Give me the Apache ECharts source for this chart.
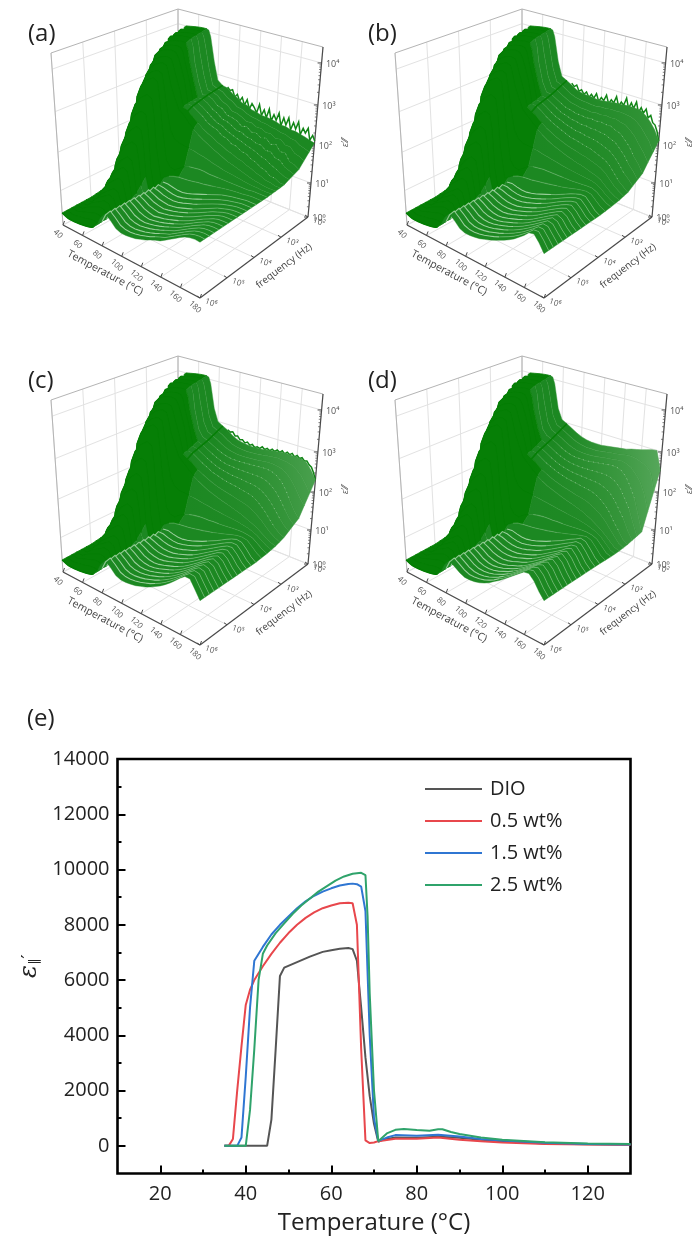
<!DOCTYPE html>
<html><head><meta charset="utf-8">
<script src="https://cdn.jsdelivr.net/npm/echarts@6/dist/echarts.min.js"></script>
<style>html,body{margin:0;padding:0;background:#fff}#c{width:694px;height:1238px;filter:blur(.4px)}</style>
</head><body><div id="c"></div>
<script>
// ---------- panel (e) values ----------
const curveDIO=[[35,0],[45,0],[46,950],[47,3500],[48,6150],[49,6450],[52,6650],[55,6850],[58,7020],[60,7080],[62,7130],[64,7160],[65,7120],[66,6700],[67,5000],[68,3200],[69,1800],[70,800],[71,150],[72,220],[75,300],[80,290],[85,330],[90,290],[95,220],[100,170],[110,90],[120,60],[130,40]];
const curve05=[[35,0],[36,0],[37,250],[38,2000],[39,3600],[40,5100],[41,5650],[42,6000],[44,6500],[46,6950],[48,7350],[50,7700],[52,8000],[54,8250],[56,8450],[58,8600],[60,8700],[62,8780],[64,8800],[65,8780],[66,8000],[67,3500],[68,200],[69,100],[70,120],[71,170],[75,260],[80,260],[85,300],[90,220],[95,170],[100,120],[110,70],[120,50],[130,40]];
const curve15=[[35,0],[38,0],[39,300],[40,2500],[41,5000],[42,6700],[44,7200],[46,7650],[48,8000],[50,8300],[52,8600],[54,8850],[56,9050],[58,9200],[60,9320],[62,9420],[64,9480],[65,9490],[66,9470],[67,9380],[68,8500],[69,4000],[70,1000],[71,180],[73,300],[75,390],[80,370],[85,400],[90,340],[95,250],[100,190],[110,110],[120,70],[130,50]];
const curve25=[[35,0],[40,0],[41,1300],[42,3500],[43,6000],[44,6950],[45,7250],[47,7700],[49,8050],[51,8400],[53,8700],[55,8950],[57,9200],[59,9400],[61,9600],[63,9750],[65,9850],[67,9880],[68,9800],[68.5,8300],[69,5500],[70,2000],[71,170],[73,450],[75,580],[77,610],[80,570],[83,550],[85,600],[86,600],[88,500],[90,430],[95,300],[100,220],[110,130],[120,90],[130,70]];
const legendNames=['DIO','0.5 wt%','1.5 wt%','2.5 wt%'];
const lineColors=['#555555','#e8474c','#2f76d2','#2fa36b'];

// ---------- 3D panels: log10(permittivity) read at log10(f) rows and temperatures ----------
const logFreqRows=[2,2.5,3,3.3,3.6,4,4.5,5,6];
const tempsLow=[40,44,46,48,52,58,64,68,70,72,76];
const tempsHigh=[80,85,90,95,100,105,110,115,120,125,130,135,140,145,150,155,160,165,170,175,180];
const lowSide=[
[1.0,1.1,3.95,4.0,4.02,4.05,4.07,4.07,4.05,3.9,3.3],
[1.0,1.05,3.8,3.88,3.92,3.96,3.98,3.98,3.8,3.4,2.95],
[.9,.95,3.35,3.55,3.68,3.76,3.8,3.78,3.7,3.55,3.2],
[.8,.85,2.85,3.15,3.35,3.5,3.58,3.55,3.35,3.1,2.8],
[.7,.75,2.3,2.7,3.0,3.2,3.3,3.25,2.8,2.2,1.3],
[.55,.55,1.6,1.9,2.2,2.45,2.6,2.55,2.2,1.2,.5],
[.45,.45,.85,1.0,1.2,1.45,1.6,1.55,1.2,.7,.5],
[.38,.38,.4,.5,.65,.8,.95,.9,.7,.5,.55],
[.35,.3,.28,.28,.28,.3,.33,.36,.38,.42,.55]];
const tailA=[
[2.85,2.75,2.72,2.62,2.55,2.46,2.44,2.36,2.34,2.3,2.3,2.28,2.26,2.22,2.22,2.18,2.18,2.15,2.12,2.08,2.05],
[2.65,2.68,2.62,2.5,2.46,2.34,2.32,2.28,2.18,2.22,2.12,2.14,2.06,2.1,1.98,2.04,1.88,1.9,1.72,1.68,1.6],
[2.6,2.58,2.5,2.42,2.3,2.24,2.2,2.1,2.07,1.98,1.97,1.88,1.87,1.78,1.74,1.66,1.62,1.53,1.52,1.45,1.45],
[2.55,2.45,2.3,2.2,2.1,2.02,1.95,1.88,1.82,1.76,1.7,1.66,1.62,1.58,1.54,1.5,1.47,1.45,1.43,1.43,1.43],
[1.15,1.12,1.22,1.32,1.38,1.4,1.42,1.42,1.4,1.4,1.4,1.4,1.4,1.4,1.4,1.4,1.4,1.42,1.42,1.42,1.42],
[.75,.98,.98,.95,.92,.92,.95,1.0,1.05,1.1,1.15,1.2,1.25,1.3,1.33,1.36,1.38,1.4,1.42,1.42,1.42],
[.78,.98,.92,.85,.82,.8,.82,.85,.9,.95,1.0,1.06,1.12,1.18,1.24,1.3,1.34,1.38,1.41,1.42,1.42],
[.8,.98,.9,.8,.75,.72,.75,.78,.82,.87,.92,.98,1.04,1.11,1.18,1.25,1.31,1.37,1.41,1.42,1.42],
[.8,.98,.85,.7,.65,.65,.67,.7,.75,.8,.87,.93,.98,1.06,1.14,1.22,1.3,1.37,1.41,1.43,1.42]];
const tailB=[
[2.95,2.88,2.8,2.72,2.68,2.66,2.66,2.64,2.64,2.66,2.68,2.7,2.7,2.72,2.72,2.72,2.7,2.62,2.5,2.34,2.1],
[2.72,2.7,2.62,2.55,2.48,2.46,2.42,2.42,2.4,2.42,2.4,2.42,2.4,2.4,2.34,2.3,2.18,2.05,1.85,1.7,1.5],
[2.6,2.58,2.5,2.4,2.32,2.26,2.2,2.15,2.1,2.08,2.05,2.02,2,1.95,1.9,1.85,1.75,1.6,1.45,1.35,1.25],
[2.55,2.42,2.3,2.2,2.1,2.02,1.95,1.9,1.85,1.8,1.76,1.72,1.7,1.66,1.62,1.58,1.52,1.42,1.32,1.25,1.2],
[1.15,1.12,1.22,1.32,1.38,1.4,1.42,1.42,1.42,1.42,1.42,1.42,1.42,1.43,1.44,1.45,1.45,1.4,1.3,1.22,1.17],
[.75,.98,1,.96,.93,.93,.96,1,1.05,1.1,1.15,1.2,1.26,1.32,1.38,1.43,1.47,1.47,1.35,1.22,1.15],
[.78,.98,.93,.87,.83,.82,.83,.87,.92,.97,1.03,1.09,1.16,1.24,1.31,1.38,1.44,1.48,1.38,1.24,1.15],
[.8,.98,.9,.8,.75,.73,.75,.79,.84,.89,.95,1.01,1.08,1.16,1.24,1.32,1.4,1.47,1.42,1.26,1.15],
[.8,.98,.85,.7,.65,.65,.67,.7,.75,.8,.86,.93,1,1.07,1.15,1.25,1.35,1.47,1.5,1.35,1.15]];
const tailC=[
[3.0,2.92,2.85,2.75,2.68,2.65,2.63,2.62,2.63,2.64,2.66,2.68,2.7,2.72,2.72,2.72,2.72,2.7,2.65,2.5,2.3],
[2.78,2.72,2.65,2.58,2.52,2.48,2.46,2.46,2.46,2.47,2.48,2.49,2.5,2.5,2.48,2.42,2.32,2.15,1.92,1.7,1.55],
[2.6,2.58,2.5,2.42,2.35,2.28,2.24,2.2,2.17,2.15,2.13,2.1,2.08,2.05,1.98,1.88,1.75,1.6,1.46,1.36,1.3],
[2.55,2.42,2.3,2.2,2.12,2.05,1.98,1.93,1.88,1.84,1.8,1.76,1.72,1.68,1.62,1.56,1.5,1.42,1.34,1.27,1.22],
[1.15,1.12,1.22,1.3,1.36,1.39,1.41,1.42,1.42,1.43,1.43,1.44,1.45,1.46,1.47,1.47,1.45,1.42,1.33,1.24,1.18],
[.75,.98,1,.96,.93,.93,.96,1,1.05,1.1,1.16,1.22,1.28,1.35,1.42,1.48,1.52,1.5,1.38,1.24,1.15],
[.78,.98,.93,.87,.83,.82,.83,.87,.92,.97,1.03,1.1,1.18,1.26,1.34,1.42,1.5,1.53,1.42,1.26,1.15],
[.8,.98,.9,.8,.75,.73,.75,.79,.84,.89,.95,1.02,1.1,1.19,1.28,1.38,1.47,1.54,1.48,1.3,1.15],
[.8,.98,.85,.7,.65,.65,.67,.7,.75,.8,.87,.95,1.03,1.12,1.22,1.33,1.45,1.55,1.55,1.35,1.15]];
const tailD=[
[3.05,2.98,2.9,2.82,2.76,2.72,2.7,2.7,2.7,2.72,2.74,2.76,2.78,2.8,2.84,2.87,2.9,2.94,2.98,3.0,2.55],
[2.82,2.76,2.7,2.62,2.56,2.52,2.5,2.5,2.5,2.52,2.54,2.56,2.58,2.6,2.6,2.56,2.45,2.25,2.0,1.6,1.2],
[2.6,2.58,2.5,2.42,2.36,2.3,2.26,2.22,2.2,2.18,2.16,2.14,2.12,2.08,2.0,1.9,1.75,1.55,1.38,1.2,1.12],
[2.55,2.42,2.3,2.2,2.12,2.05,2,1.95,1.9,1.86,1.82,1.78,1.74,1.68,1.62,1.54,1.46,1.36,1.25,1.15,1.1],
[1.15,1.12,1.22,1.3,1.36,1.39,1.41,1.42,1.42,1.43,1.43,1.44,1.45,1.46,1.47,1.47,1.45,1.4,1.28,1.15,1.1],
[.75,.98,1,.96,.93,.93,.96,1,1.05,1.1,1.16,1.22,1.28,1.35,1.42,1.48,1.55,1.52,1.38,1.22,1.12],
[.78,.98,.93,.87,.83,.82,.83,.87,.92,.97,1.03,1.1,1.18,1.26,1.34,1.42,1.52,1.57,1.44,1.25,1.13],
[.8,.98,.9,.8,.75,.73,.75,.79,.85,.9,.97,1.05,1.14,1.23,1.32,1.42,1.52,1.6,1.5,1.3,1.14],
[.8,.98,.88,.78,.72,.72,.74,.78,.84,.92,1.02,1.1,1.2,1.3,1.4,1.5,1.6,1.62,1.5,1.3,1.15]];
// the noisy lowest-frequency traces, read every 2.5 degrees from 90 to 180 at 100 Hz
const noiseTemps=[90,92.5,95,97.5,100,102.5,105,107.5,110,112.5,115,117.5,120,122.5,125,127.5,130,132.5,135,137.5,140,142.5,145,147.5,150,152.5,155,157.5,160,162.5,165,167.5,170,172.5,175,177.5,180];
const noiseA=[2.75,2.68,2.72,2.55,2.64,2.48,2.6,2.42,2.58,2.36,2.52,2.44,2.32,2.56,2.3,2.46,2.28,2.52,2.24,2.42,2.3,2.5,2.2,2.42,2.26,2.46,2.18,2.38,2.24,2.44,2.14,2.32,2.22,2.36,2.08,2.22,2.1];
const noiseB=[2.85,2.78,2.84,2.7,2.76,2.66,2.74,2.62,2.72,2.64,2.78,2.6,2.72,2.66,2.82,2.62,2.74,2.68,2.86,2.64,2.76,2.7,2.9,2.66,2.82,2.7,2.88,2.64,2.78,2.66,2.78,2.58,2.66,2.5,2.46,2.32,2.1];
const noiseC=[2.86,2.82,2.85,2.76,2.78,2.7,2.72,2.66,2.7,2.64,2.68,2.62,2.66,2.64,2.7,2.65,2.7,2.66,2.72,2.68,2.74,2.7,2.76,2.7,2.76,2.72,2.77,2.7,2.76,2.7,2.74,2.68,2.7,2.62,2.58,2.46,2.3];
const panelNoise=[noiseA,noiseB,noiseC,null];
const panelTopLight=[0,.1,.2,.26];
const tempTicks=[40,60,80,100,120,140,160,180];
const freqTicks=[6,5,4,3,2];
const epsTicks=[0,1,2,3,4];
const epsTickFrac=[0,.2,.423,.659,.906,1];   // where each decade sits on the height of the box
const epsTickLog=[0,1,2,3,4,4.38];
const sup=['⁰','¹','²','³','⁴','⁵','⁶'];
const panelTails=[tailA,tailB,tailC,tailD];
const panelOrigins=[[0,0],[344,0],[0,347],[344,347]];
const panelLetters=['(a)','(b)','(c)','(d)'];

// box corners in panel pixels; [u,v]: u along temperature, v from 1e6 Hz back to 1e2 Hz
const floorC={a:[63,225],b:[200,298],c:[308,217],d:[178,165]};
const topC={a:[51,53],b:[200,108],c:[323,47],d:[178,9]};
function lerp(a,b,t){return a+(b-a)*t;}
function bil(c,u,v,i){return lerp(lerp(c.a[i],c.b[i],u),lerp(c.d[i],c.c[i],u),v);}
function zFrac(l){for(let i=0;i<epsTickLog.length-1;i++){if(l<=epsTickLog[i+1]){return lerp(epsTickFrac[i],epsTickFrac[i+1],(l-epsTickLog[i])/(epsTickLog[i+1]-epsTickLog[i]));}}return 1;}
function uvw(u,v,w){return [lerp(bil(floorC,u,v,0),bil(topC,u,v,0),w),lerp(bil(floorC,u,v,1),bil(topC,u,v,1),w)];}
function P(T,lf,le){return uvw((T-40)/140,(6-lf)/4,zFrac(le));}

const temps=tempsLow.concat(tempsHigh);
function buildTraces(tail){
  const rows=lowSide.map((r,i)=>r.concat(tail[i]));
  const traces=[];
  for(let r=0;r<rows.length-1;r++){
    const dv=(logFreqRows[r+1]-logFreqRows[r])/4;
    const n=Math.max(1,Math.round(dv/.045));
    for(let k=0;k<n;k++){
      const t=k/n;
      traces.push({lf:lerp(logFreqRows[r],logFreqRows[r+1],t),vals:rows[r].map((x,j)=>lerp(x,rows[r+1][j],t))});
    }
  }
  traces.push({lf:logFreqRows[rows.length-1],vals:rows[rows.length-1]});
  return traces;
}
function surfaceSeries(pi){
  const traces=buildTraces(panelTails[pi]);
  const rows=lowSide.map((r,i)=>r.concat(panelTails[pi][i]));
  const data=traces.slice(0,-1).map((_,i)=>[i,0]);
  const light=panelTopLight[pi];
  return {type:'custom',xAxisIndex:pi,yAxisIndex:pi,silent:true,animation:false,clip:false,z:3,data,encode:{x:0,y:1},
    renderItem(params,api){
      const i=api.value(0),A=traces[i],B=traces[i+1];
      const v=(6-A.lf)/4;
      const split=v>.86?7:(v>.72?11:(v>.59?14:(v>.46?11:9)));
      const pa=temps.map((T,j)=>api.coord(P(T,A.lf,A.vals[j])));
      const pb=temps.map((T,j)=>api.coord(P(T,B.lf,B.vals[j])));
      const poly=(s,e)=>pa.slice(s,e).concat(pb.slice(s,e).reverse());
      const hiAlpha=v<.54?.62:(v<.62?.25:.07);
      const mid=22;
      const kids=[
        {type:'polygon',shape:{points:poly(0,split+1)},style:{fill:'#067f06',stroke:'#067f06',lineWidth:.8}},
        {type:'polygon',shape:{points:poly(split,temps.length)},style:{fill:'#1c8822',stroke:'#1c8822',lineWidth:.4}},
        {type:'polyline',shape:{points:pb.slice(0,split+1)},style:{fill:null,stroke:'#027d02',lineWidth:1.5}},
        {type:'polyline',shape:{points:pa.slice(split+1,mid)},style:{fill:null,stroke:'rgba(215,240,215,'+hiAlpha+')',lineWidth:1.1}},
        {type:'polyline',shape:{points:pa.slice(mid-1)},style:{fill:null,stroke:'rgba(215,240,215,'+(hiAlpha*.55)+')',lineWidth:1}}
      ];
      if(light>0&&v>.6){
        const a=light*(v-.6)/.4;
        kids.push({type:'polygon',shape:{points:poly(13,temps.length)},style:{fill:new echarts.graphic.LinearGradient(0,0,1,0,[{offset:0,color:'rgba(255,255,255,0)'},{offset:1,color:'rgba(255,255,255,'+a+')'}])}});
      }
      if(v>.74&&v<.9){kids.push({type:'polyline',shape:{points:pa.slice(14,30)},style:{fill:null,stroke:'rgba(235,250,235,.42)',lineWidth:1,lineDash:[1,4]}});}
      if(i===traces.length-2){
        // crease of the surface along 85 degrees
        const ridge=rows.slice(0,4).map((r,k)=>api.coord(P(85,logFreqRows[k],r[12])));
        kids.push({type:'polyline',shape:{points:ridge},style:{fill:null,stroke:'#067f06',lineWidth:1.6}});
      }
      return {type:'group',children:kids};
    }};
}
function noiseSeries(pi){
  const noise=panelNoise[pi];
  return {type:'custom',xAxisIndex:pi,yAxisIndex:pi,silent:true,animation:false,clip:false,z:2.5,data:[[0,0]],encode:{x:0,y:1},
    renderItem(params,api){
      const pts=noiseTemps.map((T,j)=>api.coord(P(T,2,noise[j])));
      return {type:'group',children:[{type:'polyline',shape:{points:pts},style:{fill:null,stroke:'#118516',lineWidth:1.5}}]};
    }};
}
function frameSeries(pi){
  return {type:'custom',xAxisIndex:pi,yAxisIndex:pi,silent:true,animation:false,clip:false,z:2,data:[[0,0]],encode:{x:0,y:1},
    renderItem(params,api){
      const C=p=>api.coord(p), kids=[];
      const ln=(p,q,col,w)=>kids.push({type:'line',shape:{x1:C(p)[0],y1:C(p)[1],x2:C(q)[0],y2:C(q)[1]},style:{stroke:col,lineWidth:w}});
      const grid='#e2e2e2';
      tempTicks.forEach(T=>{ln(P(T,6,0),P(T,2,0),grid,1);ln(P(T,2,0),P(T,2,4.38),grid,1);});
      freqTicks.forEach(f=>{ln(P(40,f,0),P(180,f,0),grid,1);ln(P(40,f,0),P(40,f,4.38),grid,1);});
      epsTicks.forEach(e=>{ln(P(40,6,e),P(40,2,e),grid,1);ln(P(40,2,e),P(180,2,e),grid,1);});
      const wall='#b4b4b4';
      ln(uvw(0,0,0),uvw(0,0,1),wall,1);ln(uvw(0,0,1),uvw(0,1,1),wall,1);ln(uvw(0,1,1),uvw(1,1,1),wall,1);ln(uvw(0,1,0),uvw(0,1,1),wall,1);
      const ax='#4a4a4a';
      ln(uvw(0,0,0),uvw(1,0,0),ax,1.2);ln(uvw(1,0,0),uvw(1,1,0),ax,1.2);ln(uvw(1,1,0),uvw(1,1,1),ax,1.2);
      const txt=(s,p,rot,fs,col,extra)=>{const c=C(p);kids.push({type:'text',x:c[0],y:c[1],rotation:rot,style:Object.assign({text:s,fill:col||'#555',fontSize:fs,fontFamily:'"Open Sans"',align:'center',verticalAlign:'middle'},extra||{})});};
      tempTicks.forEach(T=>{const p=P(T,6,0);ln(p,[p[0]+1.5,p[1]-4],ax,1);txt(String(T),[p[0]-5,p[1]+9],-.75,8);});
      freqTicks.forEach(f=>{const p=P(180,f,0);ln(p,[p[0]-3,p[1]-2],ax,1);txt('10'+sup[f],[p[0]+11,p[1]+5],-.35,8);});
      for(let d=0;d<4;d++){for(let m=2;m<10;m++){const p=P(180,2,d+Math.log10(m));ln(p,[p[0]-2,p[1]],ax,.7);}}
      epsTicks.forEach(e=>{const p=P(180,2,e);ln(p,[p[0]-4,p[1]],ax,1);txt('10'+sup[e],[p[0]+11,p[1]+1],0,9);});
      txt('Temperature (°C)',[105,273],-.49,10.5,'#444');
      txt('frequency (Hz)',[284,266],.65,10,'#444');
      txt("ε′⁄⁄",[345,143],Math.PI/2,9,'#555',{fontStyle:'italic'});
      return {type:'group',children:kids};
    }};
}
const grids=[],xAxes=[],yAxes=[],series=[];
panelOrigins.forEach((o,pi)=>{
  grids.push({left:o[0],top:o[1],width:347,height:347,show:false});
  xAxes.push({type:'value',gridIndex:pi,min:0,max:347,show:false});
  yAxes.push({type:'value',gridIndex:pi,min:0,max:347,inverse:true,show:false});
  series.push(frameSeries(pi));
  if(panelNoise[pi]) series.push(noiseSeries(pi));
  series.push(surfaceSeries(pi));
});
// panel (e)
grids.push({left:117.5,top:759,width:513,height:414.5,show:true,borderColor:'#000',borderWidth:2.6,backgroundColor:'transparent'});
const xMajor=[20,40,60,80,100,120],xMinor=[30,50,70,90,110];
const yMajor=[0,2000,4000,6000,8000,10000,12000,14000],yMinor=[1000,3000,5000,7000,9000,11000,13000];
const axTxt={color:'#222',fontSize:20,fontFamily:'"Open Sans"',formatter:v=>String(v)};
const noLine={show:false,onZero:false};
xAxes.push({type:'value',gridIndex:4,position:'bottom',min:10,max:130,splitLine:{show:false},axisLine:noLine,
  axisTick:{inside:true,length:8,lineStyle:{color:'#000',width:2},customValues:xMajor},
  axisLabel:Object.assign({margin:11,customValues:xMajor},axTxt),
  name:'Temperature (°C)',nameLocation:'middle',nameGap:38,nameTextStyle:{color:'#222',fontSize:24,fontFamily:'"Open Sans"'}});
xAxes.push({type:'value',gridIndex:4,position:'bottom',min:10,max:130,splitLine:{show:false},axisLine:noLine,axisLabel:{show:false},
  axisTick:{inside:true,length:4,lineStyle:{color:'#000',width:2},customValues:xMinor}});
yAxes.push({type:'value',gridIndex:4,position:'left',min:-1000,max:14000,splitLine:{show:false},axisLine:noLine,
  axisTick:{inside:true,length:8,lineStyle:{color:'#000',width:2},customValues:yMajor},
  axisLabel:Object.assign({margin:8,customValues:yMajor},axTxt),
  name:'{e|ε}{s|∥}{p|′}',nameLocation:'middle',nameGap:75,nameRotate:90,
  nameTextStyle:{rich:{e:{fontSize:24,fontStyle:'italic',color:'#222',fontFamily:'"DejaVu Serif"'},s:{fontSize:13,color:'#222',verticalAlign:'bottom',fontFamily:'"DejaVu Sans"'},p:{fontSize:18,color:'#222',fontFamily:'"DejaVu Sans"'}}}});
yAxes.push({type:'value',gridIndex:4,position:'left',min:-1000,max:14000,splitLine:{show:false},axisLine:noLine,axisLabel:{show:false},
  axisTick:{inside:true,length:4,lineStyle:{color:'#000',width:2},customValues:yMinor}});
[curveDIO,curve05,curve15,curve25].forEach((d,i)=>{
  series.push({type:'line',name:legendNames[i],xAxisIndex:4,yAxisIndex:4,data:d,showSymbol:false,symbol:'none',animation:false,lineStyle:{color:lineColors[i],width:2},itemStyle:{color:lineColors[i]},z:5});
});
const letterGraphics=panelLetters.map((t,i)=>({type:'text',left:panelOrigins[i][0]+(i%2?24:28),top:panelOrigins[i][1]+22,style:{text:t,fontSize:24,fill:'#222',fontFamily:'"Open Sans"'}}));
letterGraphics.push({type:'text',left:27,top:707,style:{text:'(e)',fontSize:24,fill:'#222',fontFamily:'"Open Sans"'}});
const chart=echarts.init(document.getElementById('c'));
chart.setOption({animation:false,backgroundColor:'#fff',grid:grids,xAxis:xAxes,yAxis:yAxes,series,
  graphic:letterGraphics,
  legend:{data:legendNames,orient:'vertical',left:420,top:774,itemWidth:57,itemHeight:2,itemGap:12,icon:'rect',textStyle:{fontSize:20,color:'#222',fontFamily:'"Open Sans"',padding:[0,0,0,3]},selectedMode:false}});
</script></body></html>
